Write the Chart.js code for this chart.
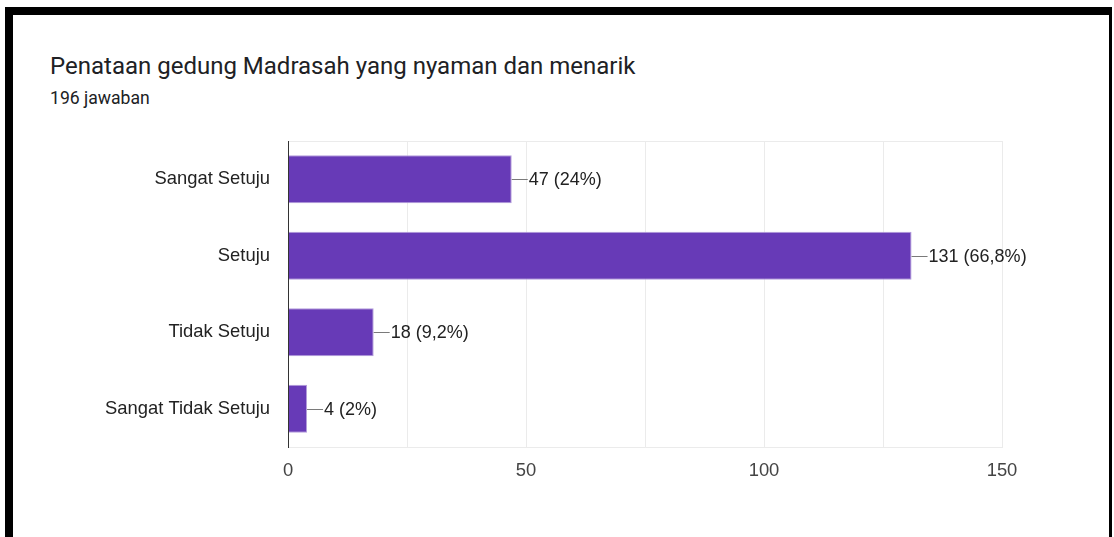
<!DOCTYPE html>
<html>
<head>
<meta charset="utf-8">
<script src="https://cdn.jsdelivr.net/npm/chart.js@4"></script>
<style>
  html, body { margin: 0; padding: 0; background: #fff; }
  #wrap { position: relative; width: 1114px; height: 537px; overflow: hidden; }
  #frame { position: absolute; left: 5px; top: 7px; width: 1096px; height: 560px;
    border-top: 8px solid #000; border-left: 8px solid #000; border-right: 3px solid #000; }
  #title { position: absolute; left: 50px; top: 52px; font-family: Roboto, sans-serif;
    font-size: 24px; color: #202124; white-space: nowrap; }
  #sub { position: absolute; left: 50px; top: 88px; font-family: Roboto, sans-serif;
    font-size: 17.6px; color: #202124; white-space: nowrap; }
  canvas { position: absolute; left: 0; top: 0; }
</style>
</head>
<body>
<div id="wrap">
  <div id="frame"></div>
  <div id="title">Penataan gedung Madrasah yang nyaman dan menarik</div>
  <div id="sub">196 jawaban</div>
  <canvas id="graph" width="1114" height="537"></canvas>
</div>
<script>
const categories = ['Sangat Setuju', 'Setuju', 'Tidak Setuju', 'Sangat Tidak Setuju'];
const counts = [47, 131, 18, 4];
const labels = ['47 (24%)', '131 (66,8%)', '18 (9,2%)', '4 (2%)'];
const xTicks = [0, 50, 100, 150];

const chartFont = { family: 'Arial, "Liberation Sans", sans-serif', size: 18.4 };

// leader line + value text at the end of each bar
const valueLabels = {
	id: 'valueLabels',
	afterDatasetsDraw(chart) {
		const ctx = chart.ctx;
		const meta = chart.getDatasetMeta(0);
		ctx.save();
		ctx.font = '18px ' + chartFont.family;
		ctx.textBaseline = 'middle';
		ctx.textAlign = 'left';
		meta.data.forEach((bar, i) => {
			const x = bar.x;
			const y = Math.round(bar.y) + 0.5;
			ctx.strokeStyle = '#7a7a7a';
			ctx.lineWidth = 1;
			ctx.beginPath();
			ctx.moveTo(x, y);
			ctx.lineTo(x + 16, y);
			ctx.stroke();
			ctx.fillStyle = '#222';
			ctx.fillText(labels[i], x + 17, y + 1);
		});
		ctx.restore();
	}
};

new Chart(document.getElementById('graph'), {
	type: 'bar',
	data: {
		labels: categories,
		datasets: [{
			data: counts,
			backgroundColor: '#673ab7',
			borderColor: '#b39ddb',
			borderWidth: 1,
			borderSkipped: 'start',
			barPercentage: 0.63,
			categoryPercentage: 1
		}]
	},
	options: {
		indexAxis: 'y',
		responsive: false,
		animation: false,
		layout: { padding: { left: 0, top: 141, right: 112, bottom: 0 } },
		plugins: { legend: { display: false }, tooltip: { enabled: false } },
		scales: {
			x: {
				min: 0, max: 150,
				afterFit: (s) => { s.height = 90; },
				afterBuildTicks: (s) => { s.ticks = [0, 25, 50, 75, 100, 125, 150].map(v => ({ value: v })); },
				grid: {
					drawTicks: false,
					color: (c) => c.tick && c.tick.value === 0 ? 'transparent' : '#ebebeb'
				},
				border: { color: '#ebebeb' },
				ticks: {
					padding: 13,
					color: '#444',
					font: chartFont,
					autoSkip: false,
					maxRotation: 0,
					callback: (v) => xTicks.includes(v) ? String(v) : ''
				}
			},
			y: {
				afterFit: (s) => { s.width = 288; },
				grid: {
					drawTicks: false,
					color: (c) => (c.type === 'tick' && c.index !== 0) ? 'transparent' : '#ebebeb'
				},
				border: { color: '#333', z: 1 },
				ticks: { padding: 18, color: '#222', font: chartFont }
			}
		}
	},
	plugins: [valueLabels]
});
</script>
</body>
</html>
